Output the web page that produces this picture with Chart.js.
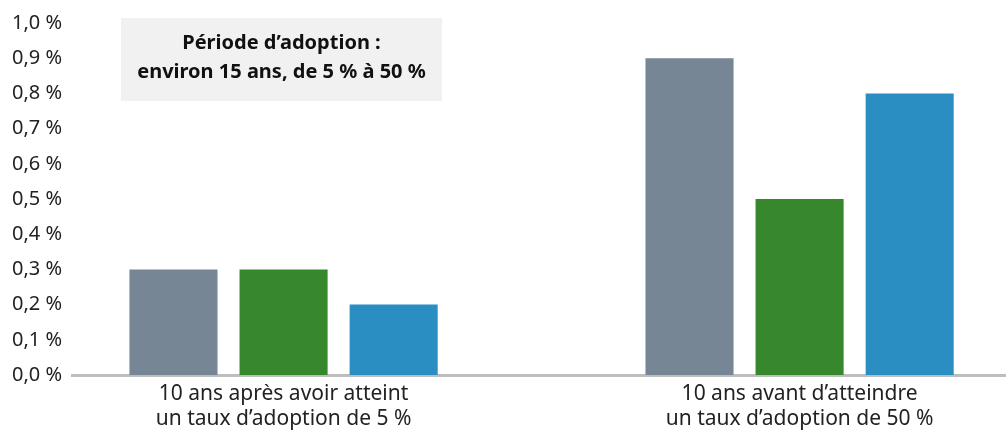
<!DOCTYPE html>
<html>
<head>
<meta charset="utf-8">
<script src="https://cdn.jsdelivr.net/npm/chart.js@4/dist/chart.umd.min.js"></script>
<style>
  html, body { margin: 0; padding: 0; background: #fff; }
  #wrap { width: 1006px; height: 430px; position: relative; }
</style>
</head>
<body>
<div id="wrap"><canvas id="adoptionChart"></canvas></div>
<script>
// Deux groupes de barres, trois séries (gris, vert, bleu)
const categories = [
    ['10 ans après avoir atteint', 'un taux d\u2019adoption de 5 %'],
    ['10 ans avant d\u2019atteindre', 'un taux d\u2019adoption de 50 %']
];
const serieGris = [0.3, 0.9];
const serieVert = [0.3, 0.5];
const serieBleu = [0.2, 0.8];
const yTicks = [0, 0.1, 0.2, 0.3, 0.4, 0.5, 0.6, 0.7, 0.8, 0.9, 1.0];
const noteLines = ['Période d\u2019adoption :', 'environ 15 ans, de 5 % à 50 %'];

const FONT = '"Noto Sans"';

function toPoints(values) {
    return values.map((v, i) => ({ x: i, y: v }));
}

// Encadré gris en haut à gauche
const notePlugin = {
    id: 'noteBox',
    afterDraw(chart) {
        const ctx = chart.ctx;
        const area = chart.chartArea;
        const x = area.left + 49, y = 18, w = 321, h = 83;
        ctx.save();
        ctx.fillStyle = '#f1f1f1';
        ctx.fillRect(x, y, w, h);
        ctx.fillStyle = '#111';
        ctx.font = 'bold 20px ' + FONT;
        ctx.textAlign = 'center';
        ctx.textBaseline = 'middle';
        ctx.fillText(noteLines[0], x + w / 2, y + 25);
        ctx.fillText(noteLines[1], x + w / 2, y + 54);
        ctx.restore();
    }
};

const ctx = document.getElementById('adoptionChart').getContext('2d');
new Chart(ctx, {
    type: 'bar',
    data: {
        datasets: [
            { data: toPoints(serieGris), backgroundColor: '#768695' },
            { data: toPoints(serieVert), backgroundColor: '#37872c' },
            { data: toPoints(serieBleu), backgroundColor: '#2b8ec3' }
        ]
    },
    options: {
        responsive: true,
        maintainAspectRatio: false,
        animation: false,
        events: [],
        layout: { padding: { top: 23, right: 0, left: 0, bottom: 0 } },
        categoryPercentage: 0.64,
        barPercentage: 0.8,
        plugins: {
            legend: { display: false },
            tooltip: { enabled: false }
        },
        scales: {
            x: {
                type: 'linear',
                min: -0.41,
                max: 1.40,
                offset: false,
                grid: { display: false, drawTicks: false },
                border: { display: true, color: '#bdbdbd', width: 3 },
                afterBuildTicks: (scale) => {
                    scale.ticks = categories.map((c, i) => ({ value: i }));
                },
                afterFit: (scale) => { scale.height = 55; },
                ticks: {
                    autoSkip: false,
                    maxRotation: 0,
                    padding: 6,
                    color: '#222',
                    font: { family: FONT, size: 21, lineHeight: 1.2 },
                    callback: (value) => categories[value] || ''
                }
            },
            y: {
                min: 0,
                max: 1,
                grid: { display: false, drawTicks: false },
                border: { display: false },
                afterBuildTicks: (scale) => {
                    scale.ticks = yTicks.map(v => ({ value: v }));
                },
                afterFit: (scale) => { scale.width = 72; },
                ticks: {
                    padding: 10,
                    color: '#222',
                    font: { family: FONT, size: 20 },
                    callback: (value) => value.toFixed(1).replace('.', ',') + ' %'
                }
            }
        }
    },
    plugins: [notePlugin]
});
</script>
</body>
</html>
